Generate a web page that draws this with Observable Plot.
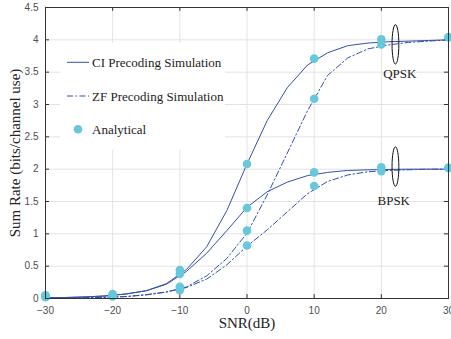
<!DOCTYPE html>
<html>
<head>
<meta charset="utf-8">
<script src="https://cdn.jsdelivr.net/npm/d3@7"></script>
<script src="https://cdn.jsdelivr.net/npm/@observablehq/plot@0.6"></script>
<style>
  html, body { margin: 0; padding: 0; background: #fff; }
  #wrap { position: relative; width: 451px; height: 339px; }
  #legend { position: absolute; left: 60px; top: 43px; }
</style>
</head>
<body>
<div id="wrap"></div>
<script>
// ---- Data ----
const snrSim = [-30,-27,-24,-21,-18,-15,-12,-9,-6,-3,0,3,6,9,12,15,18,21,24,27,30];
const ciQpsk = [0.01,0.015,0.025,0.04,0.07,0.12,0.23,0.45,0.80,1.36,2.08,2.75,3.26,3.61,3.80,3.91,3.95,3.97,3.98,3.99,4.00];
const zfQpsk = [0.005,0.008,0.012,0.018,0.03,0.06,0.10,0.18,0.35,0.62,1.01,1.60,2.25,2.90,3.45,3.72,3.86,3.92,3.96,3.98,4.00];
const ciBpsk = [0.01,0.015,0.025,0.04,0.07,0.12,0.22,0.42,0.70,1.05,1.41,1.65,1.80,1.90,1.95,1.98,1.99,1.995,2.0,2.0,2.0];
const zfBpsk = [0.005,0.008,0.012,0.018,0.03,0.055,0.10,0.17,0.30,0.52,0.81,1.06,1.34,1.62,1.81,1.91,1.96,1.98,1.99,2.0,2.0];

const snrAna = [-30,-20,-10,0,10,20,30];
const anaCiQpsk = [0.05,0.07,0.44,2.08,3.71,4.01,4.04];
const anaZfQpsk = [0.03,0.04,0.18,1.05,3.09,3.93,4.04];
const anaCiBpsk = [0.04,0.06,0.38,1.40,1.95,2.03,2.02];
const anaZfBpsk = [0.02,0.03,0.13,0.82,1.74,1.97,2.02];

const xTicks = [-30,-20,-10,0,10,20,30];
const yTicks = [0,0.5,1,1.5,2,2.5,3,3.5,4,4.5];

const groups = [
  {label: "QPSK", ellipseX: 22.1, ellipseY: 3.93, textX: 22.75, textY: 3.47},
  {label: "BPSK", ellipseX: 22.1, ellipseY: 2.04, textX: 21.85, textY: 1.51}
];

const legendItems = ["CI Precoding Simulation", "ZF Precoding Simulation", "Analytical"];

// ---- Styles ----
const lineColor = "#3551a6";
const dotColor = "#66c8da";
const dashDot = "6,2.5,1.5,2.5";
const serif = "'Liberation Serif', 'Times New Roman', serif";
const sans = "'Liberation Sans', Arial, sans-serif";

// ---- Tables ----
const simRows = (vals, scheme) => snrSim.map((s, i) => ({snr: s, rate: vals[i], scheme}));
const ciRows = [...simRows(ciQpsk, "CI-Q"), ...simRows(ciBpsk, "CI-B")];
const zfRows = [...simRows(zfQpsk, "ZF-Q"), ...simRows(zfBpsk, "ZF-B")];
const anaRows = [anaCiQpsk, anaZfQpsk, anaCiBpsk, anaZfBpsk]
  .flatMap(vals => snrAna.map((s, i) => ({snr: s, rate: vals[i]})));

// ellipse symbol
const ellipseSymbol = {
  draw(ctx) {
    const rx = 3.4, ry = 19.7, k = 0.5523;
    ctx.moveTo(rx, 0);
    ctx.bezierCurveTo(rx, ry * k, rx * k, ry, 0, ry);
    ctx.bezierCurveTo(-rx * k, ry, -rx, ry * k, -rx, 0);
    ctx.bezierCurveTo(-rx, -ry * k, -rx * k, -ry, 0, -ry);
    ctx.bezierCurveTo(rx * k, -ry, rx, -ry * k, rx, 0);
    ctx.closePath();
  }
};

const chart = Plot.plot({
  width: 451,
  height: 339,
  marginLeft: 45,
  marginRight: 3,
  marginTop: 7,
  marginBottom: 41,
  style: {fontFamily: sans, background: "#fff"},
  x: {domain: [-30, 30]},
  y: {domain: [0, 4.5]},
  marks: [
    Plot.gridX(xTicks, {stroke: "#e3e3e3", strokeOpacity: 1}),
    Plot.gridY(yTicks, {stroke: "#e3e3e3", strokeOpacity: 1}),
    // inward ticks
    Plot.ruleY(yTicks, {x1: -30, x2: -29.4, stroke: "#333"}),
    Plot.ruleY(yTicks, {x1: 29.4, x2: 30, stroke: "#333"}),
    Plot.ruleX(xTicks, {y1: 0, y2: 0.06, stroke: "#333"}),
    Plot.ruleX(xTicks, {y1: 4.44, y2: 4.5, stroke: "#333"}),
    Plot.axisX(xTicks, {tickSize: 0, tickPadding: 8, fontSize: 10, color: "#4d4d4d", label: null, fontFamily: sans}),
    Plot.axisY(yTicks, {tickSize: 0, tickPadding: 7, fontSize: 10, color: "#4d4d4d", label: null, fontFamily: sans, tickFormat: d => String(d)}),
    Plot.line(ciRows, {x: "snr", y: "rate", z: "scheme", stroke: lineColor, strokeWidth: 1}),
    Plot.line(zfRows, {x: "snr", y: "rate", z: "scheme", stroke: lineColor, strokeWidth: 1, strokeDasharray: dashDot}),
    Plot.dot(anaRows, {x: "snr", y: "rate", r: 4.3, fill: dotColor, stroke: "none"}),
    Plot.dot(groups, {x: "ellipseX", y: "ellipseY", symbol: ellipseSymbol, r: 5, fill: "none", stroke: "#111", strokeWidth: 1}),
    Plot.text(groups, {x: "textX", y: "textY", text: "label", fontFamily: serif, fontSize: 13, fill: "#222"}),
    Plot.frame({stroke: "#333"}),
    Plot.text(["Sum Rate (bits/channel use)"], {frameAnchor: "left", textAnchor: "middle", rotate: -90, dx: -30, fontFamily: serif, fontSize: 15, fill: "#222"}),
    Plot.text(["SNR(dB)"], {frameAnchor: "bottom", textAnchor: "middle", dy: 29, fontFamily: serif, fontSize: 15, fill: "#222"})
  ]
});

const wrap = document.getElementById("wrap");
wrap.appendChild(chart);

// ---- Legend (inside the axes, white box) ----
const ns = "http://www.w3.org/2000/svg";
const leg = document.createElementNS(ns, "svg");
leg.setAttribute("id", "legend");
leg.setAttribute("width", 165);
leg.setAttribute("height", 107);
const bg = document.createElementNS(ns, "rect");
bg.setAttribute("width", 165); bg.setAttribute("height", 107); bg.setAttribute("fill", "#fff");
leg.appendChild(bg);
const rowsY = [19.3, 53, 86.3];
legendItems.forEach((label, i) => {
  const y = rowsY[i];
  if (i < 2) {
    const l = document.createElementNS(ns, "line");
    l.setAttribute("x1", 7); l.setAttribute("x2", 29);
    l.setAttribute("y1", y); l.setAttribute("y2", y);
    l.setAttribute("stroke", lineColor);
    l.setAttribute("stroke-width", 1);
    if (i === 1) l.setAttribute("stroke-dasharray", dashDot);
    leg.appendChild(l);
  } else {
    const c = document.createElementNS(ns, "circle");
    c.setAttribute("cx", 18); c.setAttribute("cy", y); c.setAttribute("r", 4.3);
    c.setAttribute("fill", dotColor);
    leg.appendChild(c);
  }
  const t = document.createElementNS(ns, "text");
  t.setAttribute("x", 32); t.setAttribute("y", y);
  t.setAttribute("dy", "0.35em");
  t.setAttribute("font-family", serif);
  t.setAttribute("font-size", 13);
  t.setAttribute("fill", "#222");
  t.textContent = label;
  leg.appendChild(t);
});
wrap.appendChild(leg);
</script>
</body>
</html>
